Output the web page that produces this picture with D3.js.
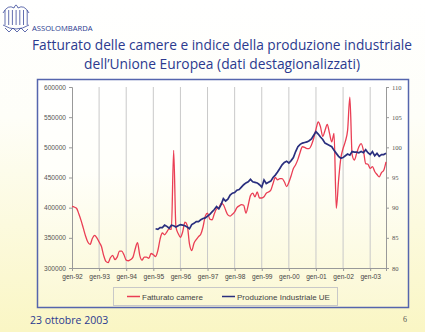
<!DOCTYPE html>
<html><head><meta charset="utf-8">
<script src="https://cdn.jsdelivr.net/npm/d3@7"></script>
<style>
html,body{margin:0;padding:0;}
body{width:425px;height:332px;overflow:hidden;}
</style></head>
<body>
<script>
// ---- DATA ----
const xTickLabels = ["gen-92","gen-93","gen-94","gen-95","gen-96","gen-97","gen-98","gen-99","gen-00","gen-01","gen-02","gen-03"];
const leftTicks = [300000,350000,400000,450000,500000,550000,600000];
const rightTicks = [80,85,90,95,100,105,110];
const seriesNames = ["Fatturato camere","Produzione Industriale UE"];
// monthly, gen-92 .. ago-03 (index 0..139)
const fatturato = [
402000,401000,399000,390000,379000,366000,353000,343000,339000,349000,354000,350000,
343000,336000,321000,311000,309000,317000,321000,314000,318000,328000,328000,322000,
313000,312000,314000,318000,332000,342000,321000,313000,318000,318000,316000,324000,
322000,319000,329000,348000,358000,355000,360000,365000,364000,495000,368000,357000,
351000,360000,376000,371000,340000,329000,341000,347000,352000,356000,368000,386000,
391000,381000,380000,390000,398000,400000,407000,405000,396000,388000,386000,389000,
393000,400000,403000,405000,404000,391000,404000,420000,424000,418000,426000,416000,
416000,418000,424000,426000,429000,440000,450000,446000,448000,448000,443000,435000,
442000,453000,465000,471000,480000,492000,501000,500000,498000,498000,504000,515000,
530000,542000,534000,518000,528000,538000,523000,509000,523000,399000,445000,482000,
498000,510000,528000,583000,488000,479000,490000,501000,506000,495000,473000,472000,
465000,468000,460000,455000,451000,458000,462000,476000];
// starts at index 37 (feb-95)
const produzioneStart = 37;
const produzione = [
86.5,86.4,86.7,86.7,87.1,86.9,86.6,87.1,87.0,86.8,87.0,
87.2,87.1,87.0,86.8,86.5,87.2,87.4,87.7,87.7,88.0,88.2,88.3,
88.6,88.9,89.3,89.7,90.2,89.8,90.5,91.5,91.1,91.4,92.1,92.4,
92.5,92.9,93.0,93.4,93.8,94.1,94.3,94.7,94.3,94.2,94.1,93.8,
93.4,94.6,94.0,94.2,94.4,95.0,95.4,95.9,96.5,97.1,97.5,97.7,
97.4,97.8,98.3,99.3,100.1,100.5,100.7,100.8,100.9,101.1,101.4,102.0,
102.6,102.2,101.7,101.3,100.7,100.5,100.3,100.1,99.5,99.0,98.5,98.2,
98.3,98.6,98.9,98.7,99.3,99.2,99.2,99.1,99.3,99.1,99.6,99.1,
98.8,99.3,98.6,99.0,98.5,98.8,98.8,99.0];

// ---- DRAW ----
const W=425,H=332;
const svg=d3.select("body").append("svg").attr("width",W).attr("height",H);
const defs=svg.append("defs");
const g1=defs.append("linearGradient").attr("id","bg").attr("x1",0).attr("y1",0).attr("x2",0).attr("y2",1);
g1.append("stop").attr("offset","0%").attr("stop-color","#ffffff");
g1.append("stop").attr("offset","35%").attr("stop-color","#fefef8");
g1.append("stop").attr("offset","100%").attr("stop-color","#faf6c4");
svg.append("rect").attr("width",W).attr("height",H).attr("fill","url(#bg)");
const g2=defs.append("linearGradient").attr("id","box").attr("x1",0).attr("y1",0).attr("x2",0).attr("y2",1);
g2.append("stop").attr("offset","0%").attr("stop-color","#ffffff");
g2.append("stop").attr("offset","40%").attr("stop-color","#fffffa");
g2.append("stop").attr("offset","100%").attr("stop-color","#fbf8d4");

const blueTxt="#2b3a8f";
// logo
const logo=svg.append("g").attr("fill","none").attr("stroke","#3b4a9a").attr("stroke-width",0.8);
logo.append("path").attr("d","M3,13 Q8,4 14,8 Q16,2 18,8 Q24,4 29,13");
for(let i=0;i<7;i++){logo.append("line").attr("x1",5+i*3.7).attr("x2",5+i*3.7).attr("y1",10).attr("y2",25);}
logo.append("path").attr("d","M3,25 Q16,33 29,25");
logo.append("path").attr("d","M5,28 L9,32 L13,28 L17,32 L21,28 L25,32 L28,29");
svg.append("text").attr("x",32).attr("y",31).attr("font-family","Open Sans, sans-serif").attr("font-size",7.6)
  .attr("fill",blueTxt).text("ASSOLOMBARDA");

// title
svg.append("text").attr("x",222).attr("y",50).attr("text-anchor","middle").attr("font-family","Open Sans, sans-serif")
  .attr("font-size",14).attr("fill",blueTxt).attr("textLength",380).attr("lengthAdjust","spacingAndGlyphs")
  .text("Fatturato delle camere e indice della produzione industriale");
svg.append("text").attr("x",222).attr("y",69).attr("text-anchor","middle").attr("font-family","Open Sans, sans-serif")
  .attr("font-size",14).attr("fill",blueTxt).attr("textLength",276).attr("lengthAdjust","spacingAndGlyphs")
  .text("dell\u2019Unione Europea (dati destagionalizzati)");

// frame
svg.append("rect").attr("x",37.5).attr("y",79.5).attr("width",371).attr("height",228)
  .attr("fill","url(#box)").attr("stroke","#5565ad").attr("stroke-width",1.5);

const L=72,R=386,T=87,B=268;
const x=d3.scaleLinear().domain([0,139]).range([L,R]);
const yL=d3.scaleLinear().domain([300000,600000]).range([B,T]);
const yR=d3.scaleLinear().domain([80,110]).range([B,T]);

// gridlines
svg.append("g").selectAll("line").data(xTickLabels.slice(1)).join("line")
  .attr("x1",(d,i)=>x((i+1)*12)).attr("x2",(d,i)=>x((i+1)*12)).attr("y1",T).attr("y2",B)
  .attr("stroke","#c9c9c9").attr("stroke-width",1);

// axes
const ax=svg.append("g").attr("transform",`translate(0,${B})`)
  .call(d3.axisBottom(x).tickValues(xTickLabels.map((d,i)=>i*12)).tickFormat((d,i)=>xTickLabels[i]).tickSize(3).tickPadding(3));
ax.select(".domain").attr("stroke","#999");
ax.selectAll(".tick line").attr("stroke","#999");
ax.selectAll("text").attr("font-family","Liberation Sans, Arial, sans-serif").attr("font-size",6.6).attr("fill","#444");

const al=svg.append("g").attr("transform",`translate(${L},0)`)
  .call(d3.axisLeft(yL).tickValues(leftTicks).tickFormat(d3.format("d")).tickSize(3).tickPadding(3));
al.select(".domain").attr("stroke","#999");
al.selectAll(".tick line").attr("stroke","#999");
al.selectAll("text").attr("font-family","Liberation Sans, Arial, sans-serif").attr("font-size",6.6).attr("fill","#555");

const ar=svg.append("g").attr("transform",`translate(${R},0)`)
  .call(d3.axisRight(yR).tickValues(rightTicks).tickSize(3).tickPadding(3));
ar.select(".domain").attr("stroke","#999");
ar.selectAll(".tick line").attr("stroke","#999");
ar.selectAll("text").attr("font-family","Liberation Serif, Times New Roman, serif").attr("font-size",6.6).attr("fill","#555");

// lines
const redC="#ea3e54", navyC="#2a2f7e";
const lineL=d3.line().x((d,i)=>x(i)).y(d=>yL(d)).curve(d3.curveMonotoneX);
svg.append("path").datum(fatturato).attr("d",lineL).attr("fill","none").attr("stroke",redC).attr("stroke-width",1.3);
const lineR=d3.line().x((d,i)=>x(i+produzioneStart)).y(d=>yR(d));
svg.append("path").datum(produzione).attr("d",lineR).attr("fill","none").attr("stroke",navyC).attr("stroke-width",1.7);

// legend
const lg=svg.append("g");
lg.append("rect").attr("x",113.5).attr("y",287.5).attr("width",224).attr("height",18).attr("fill","none").attr("stroke","#c8c8c8");
const items=[{c:redC,x:127,t:seriesNames[0]},{c:navyC,x:222,t:seriesNames[1]}];
items.forEach(it=>{
  lg.append("line").attr("x1",it.x).attr("x2",it.x+13).attr("y1",296.5).attr("y2",296.5).attr("stroke",it.c).attr("stroke-width",1.5);
  lg.append("text").attr("x",it.x+15).attr("y",299.5).attr("font-family","Liberation Sans, Arial, sans-serif").attr("font-size",8)
    .attr("fill","#444").text(it.t);
});

// footer
svg.append("text").attr("x",30).attr("y",324).attr("font-family","Open Sans, sans-serif").attr("font-size",10.5)
  .attr("fill",blueTxt).text("23 ottobre 2003");
svg.append("text").attr("x",403).attr("y",322).attr("font-family","Liberation Serif, serif").attr("font-size",8)
  .attr("fill","#555").text("6");
</script>
</body></html>
